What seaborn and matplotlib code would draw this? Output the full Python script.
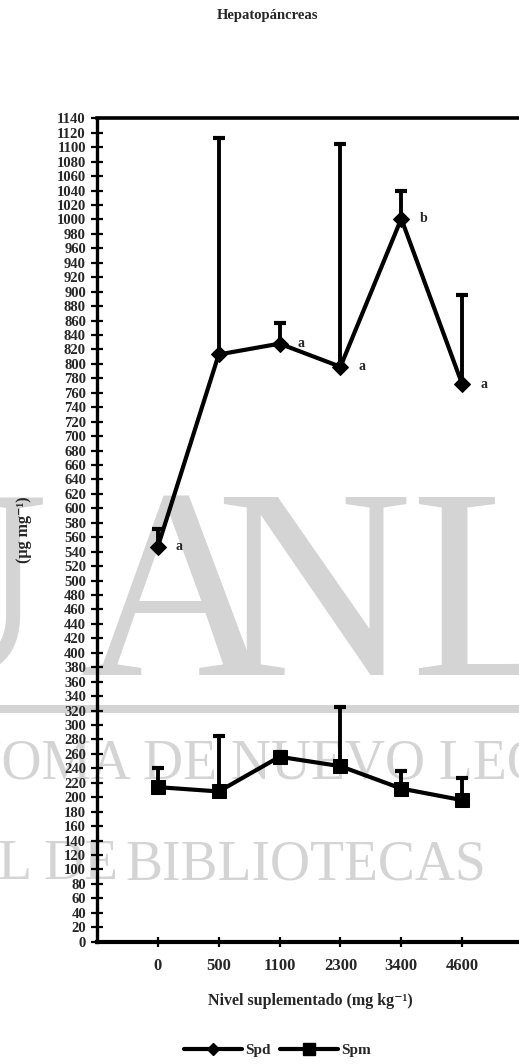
import numpy as np
import pandas as pd
import matplotlib
matplotlib.use("Agg")
import matplotlib.pyplot as plt
from matplotlib.lines import Line2D
from matplotlib.patches import Rectangle
import seaborn as sns

# Supplement levels (mg kg-1) and polyamine content in hepatopancreas (ug mg-1)
levels = ["0", "500", "1100", "2300", "3400", "4600"]
spd_mean = [547, 813, 828, 796, 1001, 772]
spd_sd = [25, 300, 29, 308, 38, 124]
spm_mean = [214, 208, 256, 243, 212, 196]
spm_sd = [26, 77, 6, 82, 24, 31]
spd_letters = ["a", "", "a", "a", "b", "a"]
y_ticks = list(range(0, 1141, 20))

sns.set_theme(style="white")
plt.rcParams["font.family"] = ["Liberation Serif", "DejaVu Serif"]
plt.rcParams["font.weight"] = "bold"
plt.rcParams["axes.labelweight"] = "bold"

W, H = 519, 1064
fig = plt.figure(figsize=(W / 100, H / 100), dpi=100)
fig.patch.set_facecolor("white")

# library watermark behind the plot
wm = "#d4d4d4"
for ch, x, ha in [("U", -50, "center"), ("A", 178, "center"),
                  ("N", 313, "center"), ("L", 410, "left")]:
    fig.text(x / W, 1 - 675 / H, ch, fontsize=196, color=wm, ha=ha,
             va="baseline", fontweight="normal", zorder=-2)
fig.patches.append(Rectangle((0, 1 - 713 / H), 1, 8 / H, transform=fig.transFigure,
                             facecolor=wm, edgecolor="none", zorder=-2))
fig.text(131 / W, 1 - 780 / H, "UNIVERSIDAD AUTÓNOMA", fontsize=40, color=wm,
         ha="right", va="baseline", fontweight="normal", zorder=-2)
fig.text(143 / W, 1 - 780 / H, "DE NUEVO LEÓN", fontsize=40, color=wm,
         ha="left", va="baseline", fontweight="normal", zorder=-2)
fig.text(118 / W, 1 - 879 / H, "DIRECCIÓN GENERAL DE", fontsize=40, color=wm,
         ha="right", va="baseline", fontweight="normal", zorder=-2)
fig.text(125 / W, 1 - 879 / H, "BIBLIOTECAS", fontsize=40, color=wm,
         ha="left", va="baseline", fontweight="normal", zorder=-2)

ax = fig.add_axes([97 / W, 1 - 941.7 / H, 426 / W, (941.7 - 118.3) / H])
ax.patch.set_alpha(0)

pos = np.arange(len(levels))
spd_df = pd.DataFrame({"pos": pos, "valor": spd_mean})
spm_df = pd.DataFrame({"pos": pos, "valor": spm_mean})

sns.lineplot(data=spd_df, x="pos", y="valor", color="black", linewidth=3,
             marker="D", markersize=8.5, markeredgecolor="black", ax=ax)
sns.lineplot(data=spm_df, x="pos", y="valor", color="black", linewidth=3,
             marker="s", markersize=10, markeredgecolor="black", ax=ax)

ax.errorbar(pos, spd_mean, yerr=[np.zeros(len(pos)), spd_sd], fmt="none",
            ecolor="black", elinewidth=2.8, capsize=4.5, capthick=3)
ax.errorbar(pos, spm_mean, yerr=[np.zeros(len(pos)), spm_sd], fmt="none",
            ecolor="black", elinewidth=2.8, capsize=4.5, capthick=3)

for p, m, letter in zip(pos, spd_mean, spd_letters):
    if letter:
        ax.annotate(letter, (p, m), xytext=(13, 0), textcoords="offset points",
                    fontsize=10, va="center", ha="left")

ax.set_xlim(-1, 6)
ax.set_ylim(0, 1140)
ax.set_xticks(pos)
ax.set_xticklabels(levels, fontsize=12)
ax.set_yticks(y_ticks)
ax.set_yticklabels([str(t) for t in y_ticks], fontsize=10.5)
ax.tick_params(axis="y", direction="inout", length=8, width=1.6, pad=4,
               left=True, color="black")
ax.tick_params(axis="x", direction="inout", length=7, width=1.6, pad=8,
               bottom=True, color="black")

ax.spines["right"].set_visible(False)
ax.spines["left"].set_linewidth(2.4)
ax.spines["top"].set_linewidth(2.6)
ax.spines["bottom"].set_linewidth(3)
for side in ["left", "top", "bottom"]:
    ax.spines[side].set_color("black")

ax.set_xlabel("Nivel suplementado (mg kg⁻¹)", fontsize=11.5, labelpad=14,
              fontweight="bold")
ax.set_ylabel("(µg mg⁻¹)", fontsize=11.5, fontweight="bold")
ax.yaxis.set_label_coords(-0.153, 0.5)

fig.text(267 / W, 1 - 15 / H, "Hepatopáncreas", fontsize=10.5, ha="center",
         va="center", fontweight="bold")

handles = [
    Line2D([], [], color="black", linewidth=3, marker="D", markersize=6),
    Line2D([], [], color="black", linewidth=3, marker="s", markersize=8),
]
fig.legend(handles, ["Spd", "Spm"], loc="center", bbox_to_anchor=(0.535, 1 - 1050 / H),
           ncol=2, frameon=False, fontsize=11, handlelength=3.8,
           handletextpad=0.2, columnspacing=0.6)

fig.savefig("out.png", dpi=100, facecolor="white")
